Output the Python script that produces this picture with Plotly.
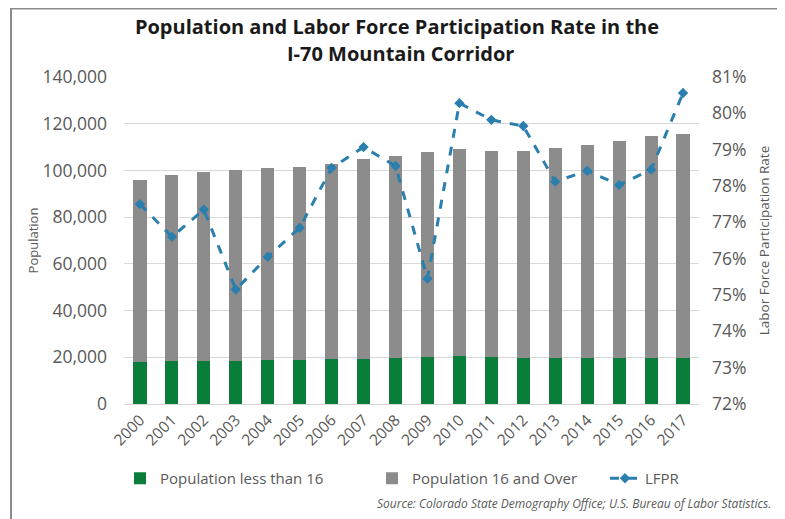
import plotly.graph_objects as go

# Dados
anos = [str(a) for a in range(2000, 2018)]
pop_menor_16 = [18000, 18200, 18300, 18600, 18700, 18900, 19200, 19400, 19800,
                20000, 20400, 20000, 19900, 19800, 19700, 19600, 19600, 19500]
pop_total = [95900, 98000, 99200, 100200, 100900, 101600, 102700, 104900, 106300,
             107700, 109200, 108400, 108400, 109400, 110900, 112700, 114700, 115600]
pop_16_mais = [t - m for t, m in zip(pop_total, pop_menor_16)]
lfpr = [77.5, 76.6, 77.35, 75.15, 76.05, 76.85, 78.5, 79.07, 78.55,
        75.45, 80.28, 79.82, 79.65, 78.12, 78.42, 78.03, 78.45, 80.56]

cinza_texto = "#595959"
fonte = "Open Sans"

# margens (a página desloca tudo 8px, então compenso aqui)
DESL = 8
L, R, T, B = 116, 94, 69, 123
W = 785 - L - R
H = 519 - T - B


def px_x(x):
    return (x - DESL - L) / W


def px_y(y):
    return ((519 - B) - (y - DESL)) / H


def legenda(x_tela):
    # uma legenda por série para imitar o espaçamento do original
    return dict(orientation="h", x=px_x(x_tela), xanchor="left", y=px_y(462), yanchor="top",
                font=dict(size=15, color=cinza_texto), bgcolor="rgba(0,0,0,0)")


fig = go.Figure()

fig.add_trace(go.Bar(x=anos, y=pop_menor_16, name="Population less than 16", legend="legend",
                     showlegend=True, marker=dict(color="#0b7d3a", line=dict(width=0))))
fig.add_trace(go.Bar(x=anos, y=pop_16_mais, name="Population 16 and Over", legend="legend2",
                     showlegend=True, marker=dict(color="#8c8c8c", line=dict(width=0))))
fig.add_trace(go.Scatter(x=anos, y=lfpr, name="LFPR", yaxis="y2", legend="legend3",
                         showlegend=True, mode="lines+markers",
                         line=dict(color="#2a7fae", width=3, dash="dash"),
                         marker=dict(symbol="diamond", size=8, color="#2a7fae")))

fig.update_layout(
    width=785, height=519, showlegend=True,
    barmode="stack", bargap=0.59,
    plot_bgcolor="white", paper_bgcolor="white",
    font=dict(family=fonte, color=cinza_texto, size=13),
    margin=dict(l=L, r=R, t=T, b=B, autoexpand=False),
    title=dict(text="<b>Population and Labor Force Participation Rate in the</b>",
               x=(397 - DESL) / 785, xanchor="center", xref="container",
               y=1 - (27 - DESL) / 519, yanchor="middle",
               font=dict(family=fonte, size=20, color="#1a1a1a")),
    xaxis=dict(range=[-0.5, len(anos) - 0.5], tickangle=-45,
               tickfont=dict(size=15.5, color=cinza_texto), automargin=False,
               showline=True, linecolor="#d9d9d9", ticks=""),
    yaxis=dict(range=[0, 140000], dtick=20000, tickformat=",", automargin=False,
               showgrid=True, gridcolor="#d9d9d9", zeroline=False, ticklabelstandoff=16,
               tickfont=dict(size=17.5, color=cinza_texto),
               title=dict(text="Population", font=dict(size=13, color=cinza_texto), standoff=0)),
    yaxis2=dict(range=[72, 81], dtick=1, ticksuffix="%", overlaying="y", side="right",
                showgrid=False, zeroline=False, automargin=False, ticklabelstandoff=12,
                tickfont=dict(size=17.5, color=cinza_texto),
                title=dict(text="Labor Force Participation Rate",
                           font=dict(size=13.5, color=cinza_texto), standoff=14)),
    legend=legenda(120),
    legend2=legenda(372),
    legend3=legenda(605),
    shapes=[dict(type="rect", xref="paper", yref="paper",
                 x0=px_x(11), x1=px_x(781), y0=px_y(540), y1=px_y(DESL + 0.5),
                 line=dict(color="#8c8c8c", width=2), layer="below")],
    annotations=[
        dict(text="<b>I-70 Mountain Corridor</b>", xref="paper", yref="paper",
             x=px_x(400), y=px_y(54), xanchor="center", yanchor="middle",
             showarrow=False, font=dict(family=fonte, size=20, color="#1a1a1a")),
        dict(text="<i>Source: Colorado State Demography Office; U.S. Bureau of Labor Statistics.</i>",
             xref="paper", yref="paper", x=px_x(773), y=px_y(503),
             xanchor="right", yanchor="middle",
             showarrow=False, font=dict(size=12, color=cinza_texto)),
    ],
)

fig.write_html("out.html")
